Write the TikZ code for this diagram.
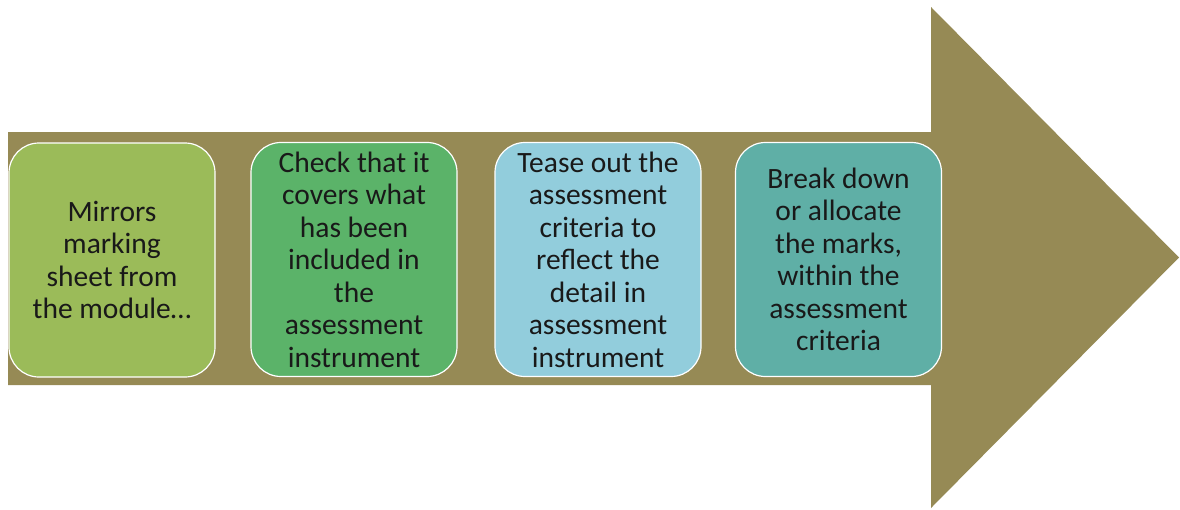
\documentclass[tikz,border=0pt]{standalone}
\usepackage{fontspec}
\setmainfont{Carlito}
\definecolor{arrowc}{HTML}{968A55}
\definecolor{boxa}{HTML}{9BBB59}
\definecolor{boxb}{HTML}{5BB369}
\definecolor{boxc}{HTML}{92CDDC}
\definecolor{boxd}{HTML}{5FAFA6}
\tikzset{
  stepbox/.style={draw=white, line width=1.2pt, rounded corners=30pt,
    minimum width=206pt, minimum height=234pt, inner sep=0pt,
    align=center, text=black!90,
    font=\fontsize{29.5pt}{32.5pt}\selectfont}
}
\begin{document}
\begin{tikzpicture}[x=1pt,y=-1pt]
\useasboundingbox (0,0) rectangle (1180,509);
\fill[arrowc] (8,132) -- (931,132) -- (931,7) -- (1179,257.5) -- (931,508) -- (931,385) -- (8,385) -- cycle;
\node[stepbox, fill=boxa] (b1) at (112,260) {Mirrors\\marking\\sheet from\\the module…};
\node[stepbox, fill=boxb] (b2) at (354,259.5) {Check that it\\covers what\\has been\\included in\\the\\assessment\\instrument};
\node[stepbox, fill=boxc] (b3) at (598,259.5) {Tease out the\\assessment\\criteria to\\reflect the\\detail in\\assessment\\instrument};
\node[stepbox, fill=boxd] (b4) at (838.5,259.5) {Break down\\or allocate\\the marks,\\within the\\assessment\\criteria};
\end{tikzpicture}
\end{document}
